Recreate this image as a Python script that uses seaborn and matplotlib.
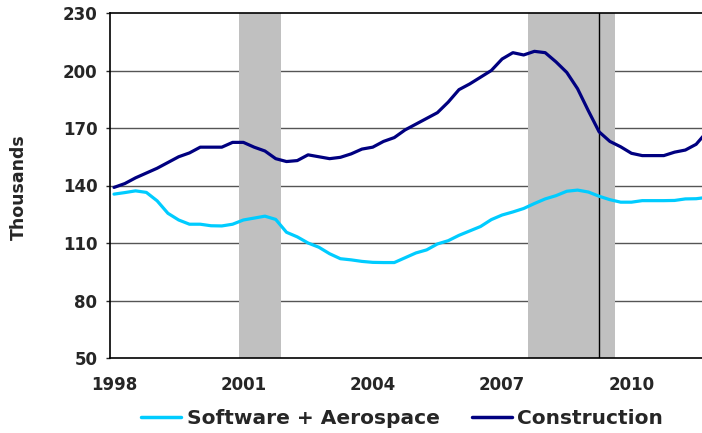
import numpy as np
import pandas as pd
import seaborn as sns
from matplotlib import pyplot as plt

# quarterly data, thousands of jobs
quarters = np.arange(1998, 2012, 0.25)

software_aerospace = [
    135.5, 136.3, 137.2, 136.4, 132.0, 125.5, 122.0, 119.8,
    119.8, 119.0, 118.9, 119.8, 122.0, 123.0, 124.0, 122.3,
    115.6, 113.2, 110.0, 107.8, 104.4, 101.8, 101.2, 100.4,
    99.9, 99.8, 99.8, 102.3, 104.8, 106.4, 109.5, 111.2,
    114.0, 116.3, 118.6, 122.2, 124.6, 126.2, 128.0, 130.6,
    133.0, 134.7, 137.0, 137.6, 136.6, 134.4, 132.6, 131.3,
    131.3, 132.1, 132.1, 132.1, 132.2, 133.0, 133.1, 133.8,
]

construction = [
    139.0, 141.0, 144.0, 146.5, 149.0, 152.0, 155.0, 157.0,
    160.0, 160.0, 160.0, 162.5, 162.5, 160.0, 158.0, 154.0,
    152.5, 153.0, 156.0, 155.0, 154.0, 154.7, 156.5, 159.0,
    160.0, 163.0, 165.0, 169.0, 172.0, 175.0, 178.0, 183.5,
    190.0, 193.0, 196.5, 200.0, 206.0, 209.3, 208.1, 210.0,
    209.3, 204.5, 199.0, 190.5, 179.0, 168.0, 163.0, 160.2,
    156.8, 155.6, 155.6, 155.6, 157.4, 158.5, 161.5, 168.0,
]

recessions = [(2000.90, 2001.87), (2007.61, 2009.62)]
marker_year = 2009.24

year_ticks = [1998, 2001, 2004, 2007, 2010]
y_ticks = [50, 80, 110, 140, 170, 200, 230]

df = pd.DataFrame({
    'quarter': np.concatenate([quarters, quarters]),
    'jobs': software_aerospace + construction,
    'series': ['Software + Aerospace'] * len(quarters) + ['Construction'] * len(quarters),
})

sns.set_style('white')
plt.rcParams['font.family'] = ['DejaVu Sans']

fig = plt.figure(figsize=(7.02, 4.33), dpi=100)
ax = fig.add_axes([110 / 702, 1 - 358 / 433, 1 - 110 / 702, (358 - 13) / 433])

for start, end in recessions:
    ax.axvspan(start, end, ymin=0, ymax=1, color='#c0c0c0', lw=0, zorder=1)
ax.axvline(marker_year, color='black', lw=1, zorder=2)

for y in y_ticks[1:-1]:
    ax.axhline(y, color='#555555', lw=1, zorder=0)

sns.lineplot(data=df, x='quarter', y='jobs', hue='series',
             palette={'Software + Aerospace': '#00ccff', 'Construction': '#000080'},
             linewidth=2.3, ax=ax, zorder=3, legend=False)

ax.set_xlim(1997.907, 2011.636)
ax.set_ylim(50, 230)
ax.set_xticks(year_ticks)
ax.set_xticklabels([str(y) for y in year_ticks], fontsize=12, fontweight='bold')
ax.set_yticks(y_ticks)
ax.set_yticklabels([str(y) for y in y_ticks], fontsize=12, fontweight='bold')
ax.tick_params(axis='y', length=3, width=1, pad=6, direction='out', left=True)
ax.tick_params(axis='x', length=0, pad=13)
ax.set_xlabel('')
ax.set_ylabel('')

for side in ['left', 'bottom', 'top']:
    ax.spines[side].set_color('black')
    ax.spines[side].set_linewidth(1.2)
    ax.spines[side].set_zorder(4)
ax.spines['right'].set_visible(False)

fig.text(19 / 702, 1 - 187 / 433, 'Thousands', rotation=90, ha='center', va='center',
         fontsize=12.5, fontweight='bold')

handles = [plt.Line2D([], [], color='#00ccff', lw=2.5),
           plt.Line2D([], [], color='#000080', lw=2.5)]
fig.legend(handles, ['Software + Aerospace', 'Construction'], loc='center',
           bbox_to_anchor=(402 / 702, 1 - 419 / 433), ncol=2, frameon=False,
           prop={'size': 14.5, 'weight': 'bold'}, handlelength=2.0,
           handletextpad=0.25, columnspacing=1.6)

fig.savefig('out.png', dpi=100)
